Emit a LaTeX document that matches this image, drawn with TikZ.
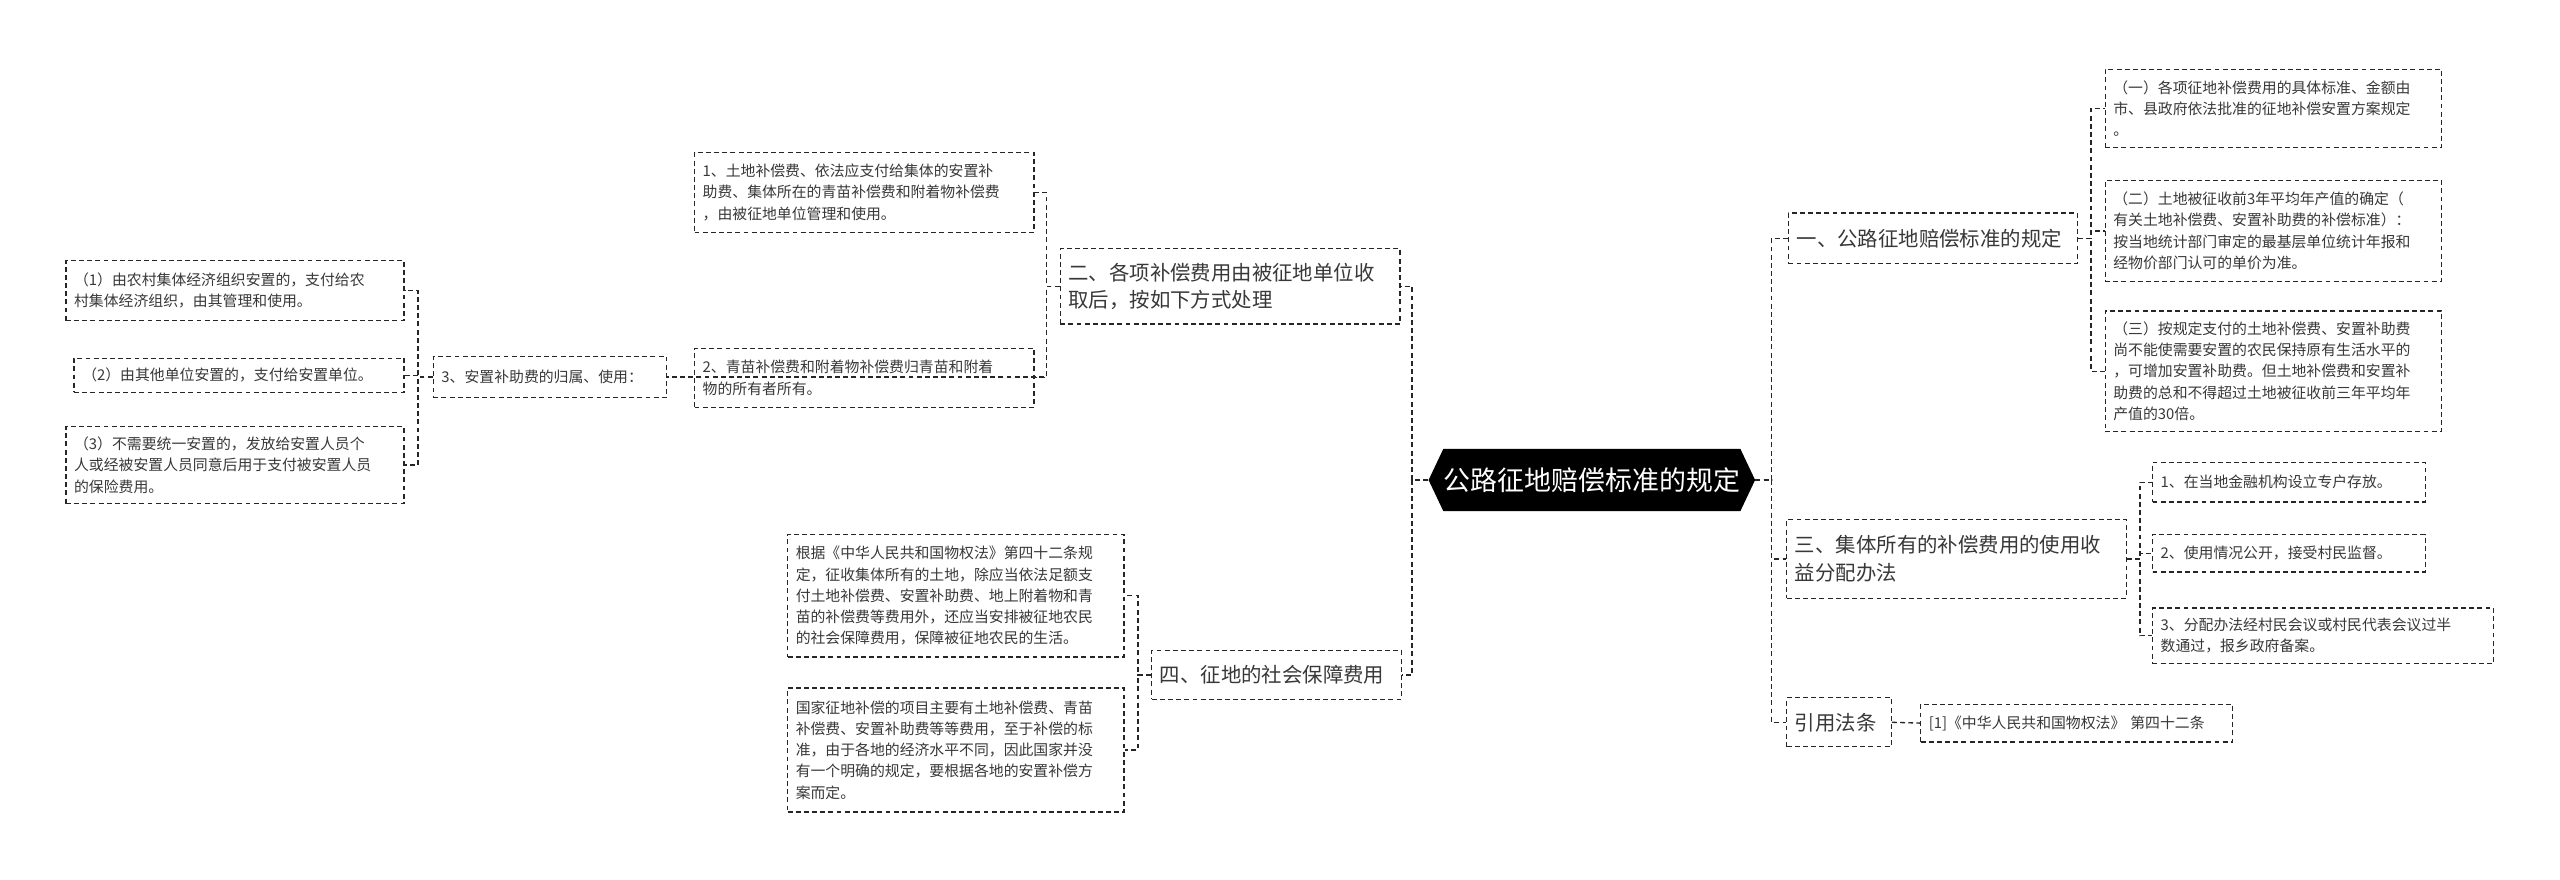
\documentclass[tikz,border=0pt]{standalone}
\usepackage{fontspec}
\setmainfont{Noto Sans CJK SC}
\begin{document}
\begin{tikzpicture}[x=1pt,y=-1pt,
  box/.style={draw=black!85,dashed,dash pattern=on 3pt off 2pt,line width=0.8pt,fill=white,inner sep=5pt,align=left,text=black!78},
  small/.style={font=\fontsize{9.1}{13}\selectfont},
  mid/.style={font=\fontsize{12.5}{17}\selectfont},
  conn/.style={draw=black!85,dashed,dash pattern=on 3pt off 2pt,line width=0.8pt}]
\useasboundingbox (0,0) rectangle (1568,538.4);
\newcommand\mybox[7][small]{%
 \pgfmathsetmacro\bw{#5-#3}\pgfmathsetmacro\bh{#6-#4}\pgfmathsetmacro\tw{#5-#3-10}%
 \node[box,#1,anchor=north west,minimum width=\bw pt,minimum height=\bh pt,text width=\tw pt] (#2) at (#3,#4) {#7};}
% center
\fill[black] (875,294) -- (884,275) -- (1066,275) -- (1075,294) -- (1066,313) -- (884,313) -- cycle;
\node[minimum width=200pt,minimum height=38pt,inner sep=0pt,text=white,font=\fontsize{16.5}{20}\selectfont] (c) at (975,294) {公路征地赔偿标准的规定};
% right
\mybox[mid]{r1}{1095}{130}{1272}{161}{一、公路征地赔偿标准的规定}
\mybox{r1a}{1289}{42}{1495}{90}{（一）各项征地补偿费用的具体标准、金额由\\市、县政府依法批准的征地补偿安置方案规定\\。}
\mybox{r1b}{1289}{110}{1495}{172}{（二）土地被征收前3年平均年产值的确定（\\有关土地补偿费、安置补助费的补偿标准）：\\按当地统计部门审定的最基层单位统计年报和\\经物价部门认可的单价为准。}
\mybox{r1c}{1289}{190}{1495}{264}{（三）按规定支付的土地补偿费、安置补助费\\尚不能使需要安置的农民保持原有生活水平的\\，可增加安置补助费。但土地补偿费和安置补\\助费的总和不得超过土地被征收前三年平均年\\产值的30倍。}
\mybox[mid]{r3}{1094}{318}{1302}{366}{三、集体所有的补偿费用的使用收\\益分配办法}
\mybox{r3a}{1318}{283}{1485}{307}{1、在当地金融机构设立专户存放。}
\mybox{r3b}{1318}{327}{1485}{350}{2、使用情况公开，接受村民监督。}
\mybox{r3c}{1318}{372}{1527}{406}{3、分配办法经村民会议或村民代表会议过半\\数通过，报乡政府备案。}
\mybox[mid]{r4}{1094}{427}{1158}{457}{引用法条}
\mybox{r4a}{1176}{431}{1367}{454}{[1]《中华人民共和国物权法》 第四十二条}
% left
\mybox[mid]{l2}{649}{152}{857}{198}{二、各项补偿费用由被征地单位收\\取后，按如下方式处理}
\mybox{l2a}{425}{93}{633}{142}{1、土地补偿费、依法应支付给集体的安置补\\助费、集体所在的青苗补偿费和附着物补偿费\\，由被征地单位管理和使用。}
\mybox{l2b}{425}{213}{633}{249}{2、青苗补偿费和附着物补偿费归青苗和附着\\物的所有者所有。}
\mybox{l3}{265}{218}{408}{243}{3、安置补助费的归属、使用：}
\mybox{l3a}{40}{159}{247}{196}{（1）由农村集体经济组织安置的，支付给农\\村集体经济组织，由其管理和使用。}
\mybox{l3b}{45}{219}{247}{240}{（2）由其他单位安置的，支付给安置单位。}
\mybox{l3c}{40}{261}{247}{308}{（3）不需要统一安置的，发放给安置人员个\\人或经被安置人员同意后用于支付被安置人员\\的保险费用。}
\mybox[mid]{l4}{705}{398}{858}{428}{四、征地的社会保障费用}
\mybox{l4a}{482}{327}{688}{402}{根据《中华人民共和国物权法》第四十二条规\\定，征收集体所有的土地，除应当依法足额支\\付土地补偿费、安置补助费、地上附着物和青\\苗的补偿费等费用外，还应当安排被征地农民\\的社会保障费用，保障被征地农民的生活。}
\mybox{l4b}{482}{421}{688}{497}{国家征地补偿的项目主要有土地补偿费、青苗\\补偿费、安置补助费等等费用，至于补偿的标\\准，由于各地的经济水平不同，因此国家并没\\有一个明确的规定，要根据各地的安置补偿方\\案而定。}
% connectors
\foreach \t in {r1,r3,r4} \draw[conn] (c.east) -- ++(10,0) |- (\t.west);
\foreach \t in {l2,l4} \draw[conn] (c.west) -- ++(-10,0) |- (\t.east);
\foreach \t in {r1a,r1b,r1c} \draw[conn] (r1.east) -- ++(8,0) |- (\t.west);
\foreach \t in {r3a,r3b,r3c} \draw[conn] (r3.east) -- ++(8,0) |- (\t.west);
\draw[conn] (r4.east) -- (r4a.west);
\foreach \t in {l2a,l2b,l3} \draw[conn] (l2.west) -- ++(-8,0) |- (\t.east);
\foreach \t in {l3a,l3b,l3c} \draw[conn] (l3.west) -- ++(-9,0) |- (\t.east);
\foreach \t in {l4a,l4b} \draw[conn] (l4.west) -- ++(-8,0) |- (\t.east);
\end{tikzpicture}
\end{document}
